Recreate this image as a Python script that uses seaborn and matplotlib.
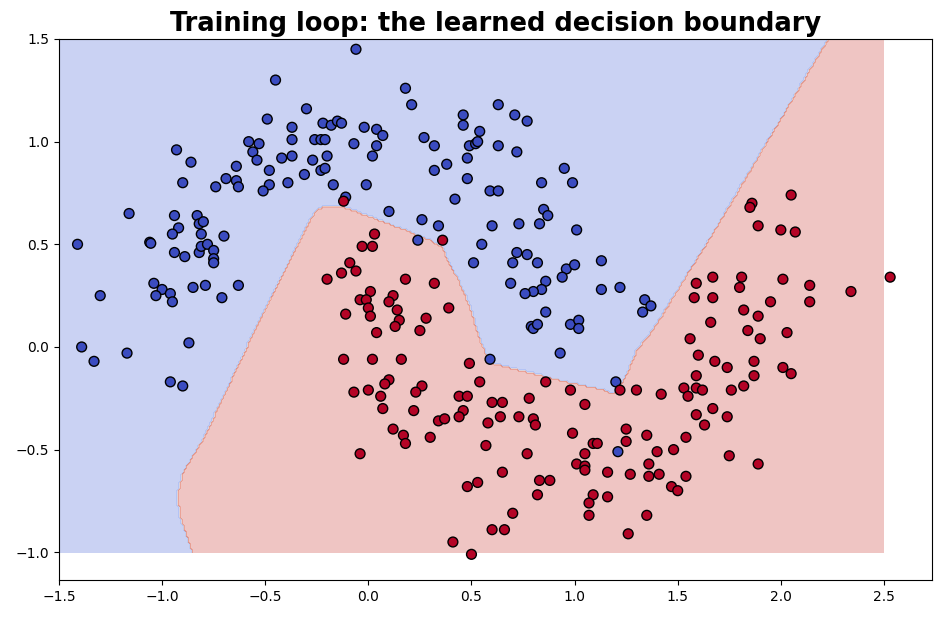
import numpy as np
import pandas as pd
import matplotlib
matplotlib.use("Agg")
import matplotlib.pyplot as plt
from matplotlib.path import Path
import seaborn as sns

# class 0 (blue) points
blue_x = [-0.06, -0.45, -0.30, -0.49, -0.37, -0.22, -0.18, -0.15, -0.13, -0.58,
          -0.53, -0.37, -0.26, -0.23, -0.21, -0.07, -0.93, -0.56, -0.86, -0.54,
          -0.42, -0.37, -0.27, -0.20, -0.64, -0.48, -0.23, -0.21, -0.31, -0.90,
          -0.69, -0.64, -0.63, -0.74, -0.48, -0.51, -0.39, -0.17, -0.11, -1.16,
          -0.94, -0.83, -0.82, -0.80, -0.92, -0.95, -0.81, -0.70, -1.41, -1.06,
          -1.055, -0.94, -0.89, -0.82, -0.81, -0.78, -0.75, -0.75, -0.75, -1.04,
          -1.00, -0.96, -1.03, -0.95, -1.30, -0.85, -0.79, -0.71, -0.63, -1.39,
          -1.33, -1.17, -0.87, -0.96, -0.90, 0.18, 0.21, 0.46, 0.46, 0.54,
          0.63, 0.71, 0.77, -0.02, 0.04, 0.07, 0.04, 0.02, 0.27, 0.32,
          0.49, 0.52, 0.53, 0.63, 0.72, 0.48, 0.38, 0.32, 0.48, -0.01,
          0.42, 0.59, 0.63, 0.84, 0.95, 0.99, 0.10, 0.26, 0.85, 0.87,
          0.34, 0.24, 0.60, 0.73, 0.83, 1.01, 0.55, 0.51, 0.72, 0.77,
          0.70, 0.82, 1.13, 0.96, 1.00, 0.94, 0.69, 0.86, 0.84, 0.80,
          0.76, 1.13, 1.22, 1.34, 1.33, 1.37, 0.86, 0.79, 0.80, 0.82,
          0.98, 1.02, 1.02, 0.93, 0.59, 1.20, 1.21]
blue_y = [1.45, 1.30, 1.16, 1.11, 1.07, 1.09, 1.08, 1.10, 1.09, 1.00,
          0.99, 1.01, 1.01, 1.01, 1.01, 0.99, 0.96, 0.95, 0.90, 0.91,
          0.92, 0.93, 0.91, 0.93, 0.88, 0.86, 0.86, 0.87, 0.84, 0.80,
          0.82, 0.81, 0.78, 0.78, 0.79, 0.76, 0.80, 0.79, 0.73, 0.65,
          0.64, 0.64, 0.60, 0.61, 0.58, 0.55, 0.55, 0.54, 0.50, 0.51,
          0.505, 0.46, 0.44, 0.46, 0.49, 0.50, 0.47, 0.43, 0.41, 0.31,
          0.28, 0.26, 0.25, 0.22, 0.25, 0.29, 0.30, 0.24, 0.30, 0.00,
          -0.07, -0.03, 0.02, -0.17, -0.19, 1.26, 1.18, 1.13, 1.08, 1.05,
          1.18, 1.13, 1.10, 1.07, 1.06, 1.03, 0.98, 0.93, 1.02, 0.98,
          0.98, 0.99, 1.00, 0.98, 0.95, 0.92, 0.89, 0.86, 0.82, 0.79,
          0.72, 0.76, 0.76, 0.80, 0.87, 0.80, 0.66, 0.62, 0.67, 0.64,
          0.59, 0.52, 0.59, 0.60, 0.60, 0.57, 0.50, 0.41, 0.46, 0.45,
          0.41, 0.41, 0.42, 0.38, 0.40, 0.34, 0.31, 0.32, 0.28, 0.27,
          0.26, 0.28, 0.29, 0.23, 0.17, 0.20, 0.17, 0.10, 0.09, 0.11,
          0.11, 0.13, 0.09, -0.03, -0.06, -0.17, -0.51]

# class 1 (red) points
red_x = [-0.12, -0.09, -0.13, -0.06, -0.20, -0.11, -0.12, -0.07, 0.03, -0.03,
         0.02, 0.36, 0.18, 0.32, 0.01, -0.04, -0.01, 0.12, 0.10, 0.00,
         0.01, 0.14, 0.15, 0.13, 0.28, 0.39, 0.25, 0.04, 0.02, 0.16,
         0.49, 0.54, 0.86, 0.98, 1.22, 1.30, 0.10, 0.08, 0.26, 0.23,
         0.00, 0.06, 0.44, 0.48, 0.60, 0.65, 0.78, 1.05, 0.07, 0.22,
         0.46, 0.44, 0.34, 0.37, 0.58, 0.64, 0.73, 0.80, 0.81, 0.12,
         0.17, 0.18, 0.30, -0.04, 0.57, 0.77, 0.99, 1.09, 1.11, 1.05,
         1.25, 1.25, 1.35, 1.01, 1.05, 1.05, 1.16, 1.27, 1.36, 1.36,
         0.65, 0.83, 0.88, 0.82, 0.48, 0.53, 1.09, 1.07, 1.16, 1.07,
         1.35, 0.70, 0.60, 0.66, 1.26, 0.41, 0.50, 2.05, 1.86, 1.85,
         1.89, 2.00, 2.07, 2.53, 1.67, 1.59, 1.81, 1.80, 2.01, 2.14,
         2.34, 2.14, 1.58, 1.67, 1.95, 1.82, 1.89, 1.66, 1.84, 1.90,
         2.03, 1.56, 1.60, 1.68, 1.74, 1.87, 2.01, 2.05, 1.59, 1.87,
         1.53, 1.59, 1.62, 1.55, 1.76, 1.82, 1.42, 1.67, 1.59, 1.74,
         1.63, 1.54, 1.40, 1.48, 1.75, 1.89, 1.41, 1.54, 1.47, 1.50]
red_y = [0.71, 0.41, 0.36, 0.37, 0.33, 0.16, -0.06, -0.22, 0.55, 0.49,
         0.49, 0.52, 0.33, 0.31, 0.27, 0.23, 0.23, 0.25, 0.22, 0.19,
         0.15, 0.18, 0.13, 0.10, 0.14, 0.19, 0.08, 0.07, -0.06, -0.06,
         -0.08, -0.17, -0.17, -0.21, -0.21, -0.21, -0.16, -0.18, -0.19, -0.22,
         -0.21, -0.24, -0.24, -0.24, -0.27, -0.27, -0.25, -0.28, -0.30, -0.31,
         -0.31, -0.34, -0.36, -0.35, -0.37, -0.34, -0.34, -0.35, -0.38, -0.40,
         -0.43, -0.47, -0.44, -0.52, -0.48, -0.52, -0.42, -0.47, -0.47, -0.52,
         -0.40, -0.46, -0.43, -0.57, -0.58, -0.60, -0.61, -0.62, -0.57, -0.63,
         -0.61, -0.65, -0.65, -0.72, -0.68, -0.66, -0.72, -0.76, -0.73, -0.82,
         -0.82, -0.81, -0.89, -0.89, -0.91, -0.95, -1.01, 0.74, 0.70, 0.68,
         0.59, 0.57, 0.56, 0.34, 0.34, 0.31, 0.34, 0.29, 0.33, 0.30,
         0.27, 0.22, 0.24, 0.24, 0.22, 0.18, 0.15, 0.12, 0.08, 0.04,
         0.07, 0.04, -0.04, -0.07, -0.10, -0.07, -0.10, -0.13, -0.14, -0.14,
         -0.20, -0.20, -0.21, -0.24, -0.21, -0.19, -0.23, -0.30, -0.33, -0.34,
         -0.38, -0.44, -0.51, -0.50, -0.53, -0.57, -0.62, -0.63, -0.68, -0.70]

# outline of the class-1 region of the learned boundary
boundary_x = [-0.82, -0.875, -0.913, -0.928, -0.899, -0.802, -0.710, -0.550, -0.307, -0.259,
              -0.220, -0.138, -0.055, 0.153, 0.299, 0.362, 0.381, 0.444, 0.493, 0.527,
              0.575, 0.604, 0.818, 0.978, 1.138, 1.186, 1.220, 1.254, 1.302, 1.380,
              1.695, 2.228, 2.29, 2.7, 2.7]
boundary_y = [-1.10, -0.937, -0.825, -0.728, -0.611, -0.450, -0.256, 0.085, 0.571, 0.659,
              0.683, 0.688, 0.659, 0.581, 0.522, 0.483, 0.435, 0.313, 0.196, 0.085,
              -0.052, -0.081, -0.134, -0.173, -0.207, -0.232, -0.197, -0.125, -0.013, 0.085,
              0.595, 1.5, 1.6, 1.6, -1.10]

grid_x = np.linspace(-1.5, 2.5, 401)
grid_y = np.linspace(-1.0, 1.5, 251)

df = pd.DataFrame({
    "x": blue_x + red_x,
    "y": blue_y + red_y,
    "label": [0] * len(blue_x) + [1] * len(red_x),
})

xx, yy = np.meshgrid(grid_x, grid_y)
region = Path(np.column_stack([boundary_x, boundary_y]))
Z = region.contains_points(np.column_stack([xx.ravel(), yy.ravel()])).astype(float)
Z = Z.reshape(xx.shape)

fig, ax = plt.subplots(figsize=(9.42, 6.18), dpi=100)
fig.subplots_adjust(left=0.0626, right=0.9894, top=0.9369, bottom=0.0615)

ax.contourf(xx, yy, Z, cmap=plt.cm.coolwarm, alpha=0.3)
sns.scatterplot(data=df, x="x", y="y", hue="label", palette=["#3b4cc0", "#b40426"],
                s=50, edgecolor="k", linewidth=1, legend=False, ax=ax)

ax.set_xlim(-1.5, 2.733)
ax.set_ylim(-1.135, 1.5)
ax.set_xlabel("")
ax.set_ylabel("")
ax.set_title("Training loop: the learned decision boundary", fontsize=18.5, fontweight="bold")

fig.savefig("out.png", dpi=100)
